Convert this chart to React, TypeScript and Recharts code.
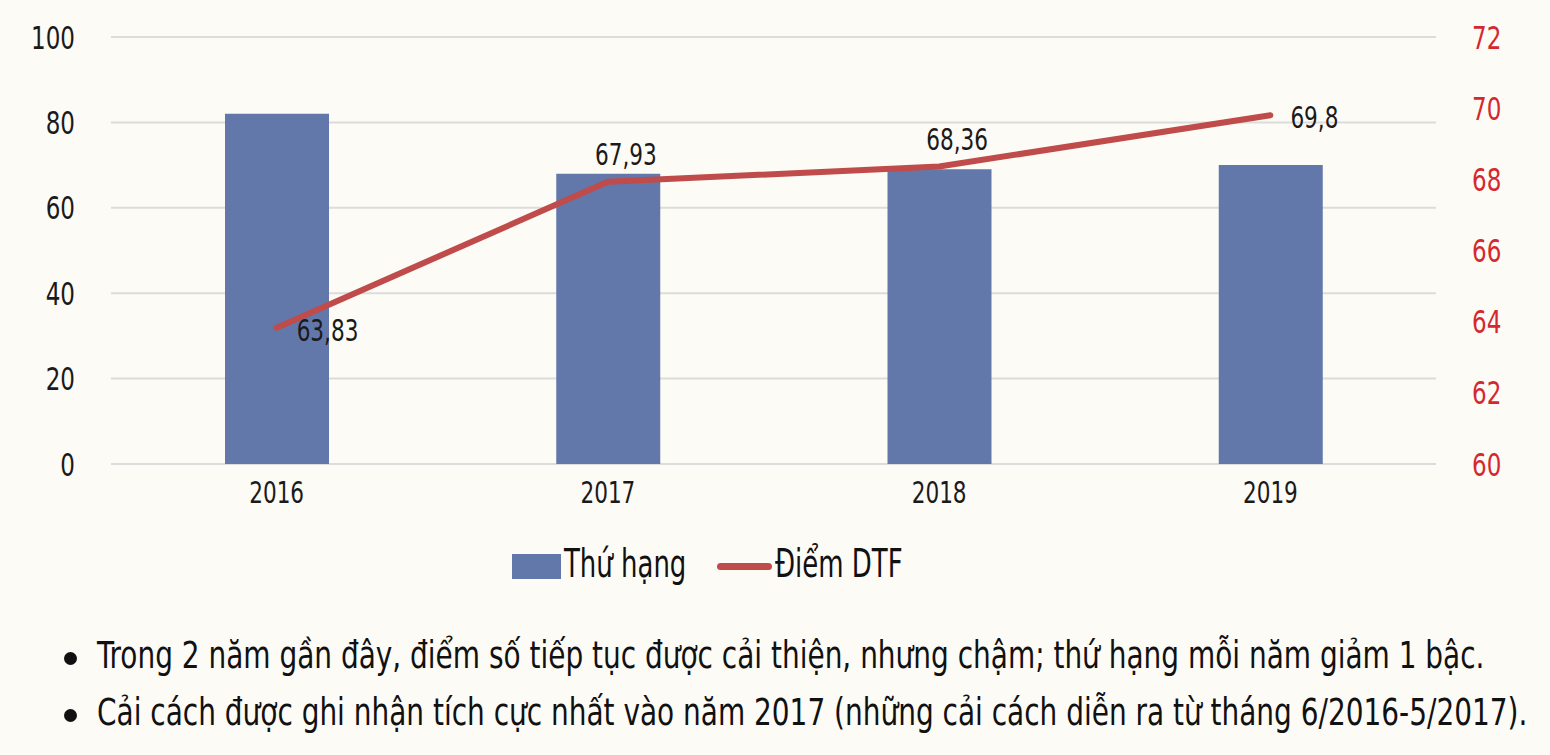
import React from "react";
import {
  ComposedChart,
  Bar,
  Line,
  XAxis,
  YAxis,
  CartesianGrid,
  Legend,
  LabelList,
} from "recharts";

const years = ["2016", "2017", "2018", "2019"];
const rankValues = [82, 68, 69, 70];
const dtfValues = [63.83, 67.93, 68.36, 69.8];
const leftTicks = [0, 20, 40, 60, 80, 100];
const rightTicks = [60, 62, 64, 66, 68, 70, 72];
const notes = [
  "Trong 2 năm gần đây, điểm số tiếp tục được cải thiện, nhưng chậm; thứ hạng mỗi năm giảm 1 bậc.",
  "Cải cách được ghi nhận tích cực nhất vào năm 2017 (những cải cách diễn ra từ  tháng 6/2016-5/2017).",
];

// no condensed face installed besides DejaVu Sans Condensed, so squeeze it a bit more
const FONT = "'DejaVu Sans Condensed', 'DejaVu Sans', sans-serif";
const SQUEEZE = 0.8;
const BAR_COLOR = "#6278ab";
const LINE_COLOR = "#bf4b4a";
const RIGHT_COLOR = "#d5282e";

const data = years.map((year, i) => ({
  year,
  rank: rankValues[i],
  dtf: dtfValues[i],
}));

// which side of the point each line label sits on
const labelSide = ["right", "top", "top", "right"];

const Narrow = ({ x, y, anchor, size, fill, dy, children }: any) => (
  <g transform={`translate(${x},${y}) scale(${SQUEEZE},1)`}>
    <text x={0} y={0} dy={dy} textAnchor={anchor} fontSize={size} fontFamily={FONT} fill={fill}>
      {children}
    </text>
  </g>
);

const XTick = ({ x, y, payload }: any) => (
  <Narrow x={x} y={y} anchor="middle" size={30} fill="#1a1a1a" dy="0.71em">
    {payload.value}
  </Narrow>
);

const LeftTick = ({ x, y, payload }: any) => (
  <Narrow x={x} y={y} anchor="end" size={32} fill="#1a1a1a" dy="0.36em">
    {payload.value}
  </Narrow>
);

const RightTick = ({ x, y, payload }: any) => (
  <Narrow x={x} y={y} anchor="start" size={32} fill={RIGHT_COLOR} dy="0.36em">
    {payload.value}
  </Narrow>
);

const DtfLabel = (props: any) => {
  const { x, y, value, index } = props;
  const text = String(value).replace(".", ",");
  if (labelSide[index] === "right") {
    return (
      <Narrow x={x + 20} y={y + 13} anchor="start" size={30} fill="#1a1a1a">
        {text}
      </Narrow>
    );
  }
  return (
    <Narrow x={x + 18} y={y - 17} anchor="middle" size={30} fill="#1a1a1a">
      {text}
    </Narrow>
  );
};

const squeezeStyle = (s: number): React.CSSProperties => ({
  position: "absolute",
  whiteSpace: "nowrap",
  transform: `scaleX(${s})`,
  transformOrigin: "left center",
});

const LegendBox = () => (
  <div style={{ position: "relative", height: 44, fontFamily: FONT, fontSize: 39, color: "#111" }}>
    <span style={{ position: "absolute", left: 512, top: 9, width: 49, height: 25, background: BAR_COLOR }} />
    <span style={{ ...squeezeStyle(0.74), left: 564, top: -4 }}>Thứ hạng</span>
    <span
      style={{
        position: "absolute",
        left: 717,
        top: 18,
        width: 55,
        height: 7,
        borderRadius: 4,
        background: LINE_COLOR,
      }}
    />
    <span style={{ ...squeezeStyle(0.74), left: 775, top: -4 }}>Điểm DTF</span>
  </div>
);

export default function App() {
  return (
    <div
      style={{
        position: "absolute",
        left: 0,
        top: 0,
        width: 1550,
        height: 755,
        background: "#fdfbf6",
        overflow: "hidden",
      }}
    >
      <ComposedChart
        width={1550}
        height={600}
        data={data}
        margin={{ top: 37, right: 0, bottom: 76, left: 0 }}
      >
        <CartesianGrid yAxisId="left" vertical={false} stroke="#dcdcdc" strokeWidth={2} />
        <XAxis
          dataKey="year"
          axisLine={false}
          tickLine={false}
          tickSize={0}
          tickMargin={18}
          height={60}
          tick={<XTick />}
        />
        <YAxis
          yAxisId="left"
          domain={[0, 100]}
          ticks={leftTicks}
          width={111}
          axisLine={false}
          tickLine={false}
          tickSize={0}
          tickMargin={36}
          tick={<LeftTick />}
        />
        <YAxis
          yAxisId="right"
          orientation="right"
          domain={[60, 72]}
          ticks={rightTicks}
          width={114}
          axisLine={false}
          tickLine={false}
          tickSize={0}
          tickMargin={36}
          tick={<RightTick />}
        />
        <Bar
          yAxisId="left"
          dataKey="rank"
          name="Thứ hạng"
          fill={BAR_COLOR}
          barSize={104}
          isAnimationActive={false}
        />
        <Line
          yAxisId="right"
          dataKey="dtf"
          name="Điểm DTF"
          stroke={LINE_COLOR}
          strokeWidth={6}
          strokeLinecap="round"
          dot={false}
          activeDot={false}
          isAnimationActive={false}
        >
          <LabelList dataKey="dtf" content={<DtfLabel />} />
        </Line>
        <Legend
          layout="horizontal"
          verticalAlign="middle"
          align="center"
          wrapperStyle={{ top: 545, left: 0, width: 1550 }}
          content={<LegendBox />}
        />
      </ComposedChart>
      {notes.map((note, i) => (
        <div key={note} style={{ position: "absolute", left: 0, top: 630 + i * 57, height: 57, width: 1550 }}>
          <span
            style={{
              position: "absolute",
              left: 64,
              top: 22,
              width: 13,
              height: 13,
              borderRadius: "50%",
              background: "#111",
            }}
          />
          <span style={{ ...squeezeStyle(0.84), left: 97, top: 4, fontFamily: FONT, fontSize: 37, color: "#111" }}>
            {note}
          </span>
        </div>
      ))}
    </div>
  );
}
